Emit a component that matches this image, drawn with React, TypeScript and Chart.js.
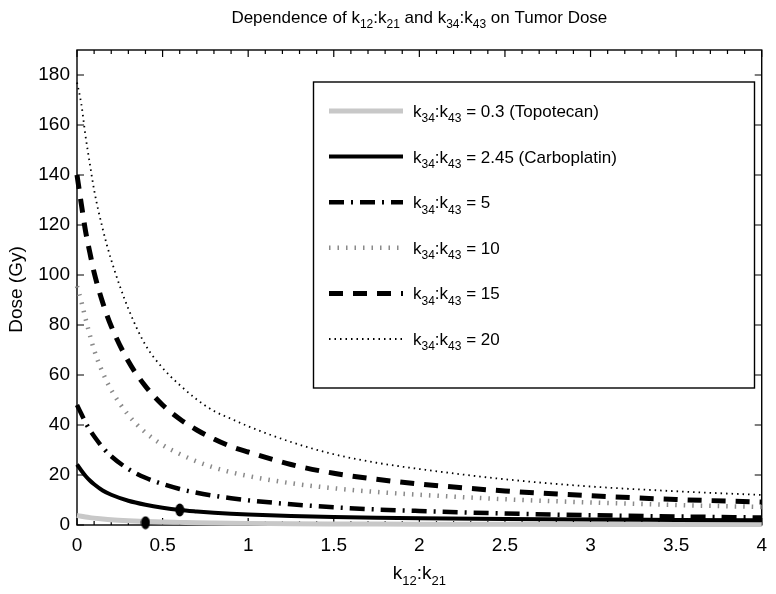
import React, { useEffect, useRef } from 'react';
import { Chart, registerables } from 'chart.js';

Chart.register(...registerables);

// k12:k21 sample positions (x axis)
const kRatio = [0, 0.025, 0.05, 0.075, 0.1, 0.15, 0.2, 0.3, 0.4, 0.5, 0.6, 0.7, 0.8, 0.9, 1, 1.25, 1.5, 1.75, 2, 2.5, 3, 3.5, 4];

// Dose (Gy) for each k34:k43 value
const doseTopotecan = [3.8, 3.5, 3.2, 2.95, 2.75, 2.4, 2.1, 1.7, 1.4, 1.2, 1.05, 0.9, 0.8, 0.72, 0.65, 0.52, 0.44, 0.38, 0.34, 0.28, 0.24, 0.21, 0.19];
const doseCarboplatin = [24.2, 21.8, 19.6, 17.8, 16.3, 13.8, 12.1, 9.7, 8.1, 6.9, 6.0, 5.4, 4.9, 4.5, 4.2, 3.6, 3.2, 2.9, 2.7, 2.4, 2.2, 2.05, 1.9];
const dose5 = [48, 44.5, 41, 38, 35.5, 31, 27.5, 22.4, 18.9, 16.4, 14.4, 12.9, 11.7, 10.7, 9.9, 8.3, 7.1, 6.2, 5.6, 4.6, 3.9, 3.4, 3.0];
const dose10 = [95.5, 89.5, 82.5, 76, 70, 61, 54, 44, 37, 32, 28.4, 25.4, 23, 21.1, 19.6, 16.7, 14.7, 13.2, 12.1, 10.3, 9.0, 8.0, 7.2];
const dose15 = [140, 128.5, 117.5, 109, 101, 89, 79.5, 65.5, 55.5, 48, 42.4, 38, 34.4, 31.4, 29.2, 24.2, 20.7, 18.3, 16.4, 13.6, 11.7, 10.2, 9.2];
const dose20 = [177, 168.5, 155.5, 144.5, 134, 118.5, 106, 86.5, 72, 62.8, 56, 50.2, 45.6, 42.5, 39.5, 33.2, 28.3, 24.9, 22.4, 18.3, 15.4, 13.5, 12];

const seriesValues = ['0.3 (Topotecan)', '2.45 (Carboplatin)', '5', '10', '15', '20'];

// Marked drug points
const markerX = [0.4, 0.6];
const markerY = [0.9, 6.0];

const xMin = 0;
const xMax = 4;
const xStep = 0.5;
const yMin = 0;
const yMax = 190;
const yStep = 20;

const FONT = '"Liberation Sans", Arial, Helvetica, sans-serif';
const FS_TICK = 19;
const FS_TITLE = 17;
const FS_LEGEND = 17;
const FS_AXIS = 19;

const styles = [
  { color: '#c8c8c8', width: 5, dash: [] as number[] },
  { color: '#000000', width: 4, dash: [] as number[] },
  { color: '#000000', width: 4.5, dash: [15, 7, 2, 7] },
  { color: '#8a8a8a', width: 4.5, dash: [1.5, 7] },
  { color: '#000000', width: 5, dash: [14, 10] },
  { color: '#000000', width: 1.8, dash: [1.5, 4] },
];

type Part = { t: string; sub?: boolean };

function drawRich(ctx: CanvasRenderingContext2D, parts: Part[], x: number, y: number, size: number, align: 'left' | 'center') {
  const subSize = Math.round(size * 0.7);
  const widths = parts.map((p) => {
    ctx.font = `${p.sub ? subSize : size}px ${FONT}`;
    return ctx.measureText(p.t).width;
  });
  const total = widths.reduce((a, b) => a + b, 0);
  let cx = align === 'center' ? x - total / 2 : x;
  ctx.textAlign = 'left';
  ctx.textBaseline = 'alphabetic';
  ctx.fillStyle = '#000';
  parts.forEach((p, i) => {
    ctx.font = `${p.sub ? subSize : size}px ${FONT}`;
    ctx.fillText(p.t, cx, p.sub ? y + size * 0.32 : y);
    cx += widths[i];
  });
}

const decoPlugin = {
  id: 'deco',
  beforeDatasetsDraw(chart: any) {
    const { ctx, chartArea: a } = chart;
    ctx.save();
    ctx.strokeStyle = '#000';
    ctx.lineWidth = 1.4;
    ctx.strokeRect(a.left, a.top, a.right - a.left, a.bottom - a.top);
    const xs = chart.scales.x;
    const ys = chart.scales.y;
    ctx.lineWidth = 1.2;
    ctx.beginPath();
    for (let i = 0; i <= Math.round((xMax - xMin) * 10); i++) {
      const v = xMin + i * 0.1;
      const px = xs.getPixelForValue(v);
      const major = i % 5 === 0;
      const len = major ? 7 : 4;
      ctx.moveTo(px, a.bottom);
      ctx.lineTo(px, a.bottom - len);
      ctx.moveTo(px, a.top);
      ctx.lineTo(px, a.top + len);
    }
    for (let v = yMin; v <= yMax; v += yStep) {
      const py = ys.getPixelForValue(v);
      ctx.moveTo(a.left, py);
      ctx.lineTo(a.left + 7, py);
      ctx.moveTo(a.right, py);
      ctx.lineTo(a.right - 7, py);
    }
    ctx.stroke();
    ctx.restore();
  },
  afterDraw(chart: any) {
    const { ctx, chartArea: a } = chart;
    const cxm = (a.left + a.right) / 2;
    ctx.save();
    // Title
    drawRich(ctx, [
      { t: 'Dependence of k' }, { t: '12', sub: true }, { t: ':k' }, { t: '21', sub: true },
      { t: ' and k' }, { t: '34', sub: true }, { t: ':k' }, { t: '43', sub: true }, { t: ' on Tumor Dose' },
    ], cxm, 23, FS_TITLE, 'center');
    // X title
    drawRich(ctx, [{ t: 'k' }, { t: '12', sub: true }, { t: ':k' }, { t: '21', sub: true }], cxm, 579, FS_AXIS, 'center');
    // Y title
    ctx.save();
    ctx.translate(17, (a.top + a.bottom) / 2 + 2);
    ctx.rotate(-Math.PI / 2);
    ctx.font = `${FS_AXIS}px ${FONT}`;
    ctx.fillStyle = '#000';
    ctx.textAlign = 'center';
    ctx.textBaseline = 'middle';
    ctx.fillText('Dose (Gy)', 0, 0);
    ctx.restore();

    // Legend
    const lx = 313.5, ly = 82, lw = 441, lh = 306;
    ctx.fillStyle = '#fff';
    ctx.fillRect(lx, ly, lw, lh);
    ctx.strokeStyle = '#000';
    ctx.lineWidth = 1.4;
    ctx.strokeRect(lx, ly, lw, lh);
    seriesValues.forEach((label, i) => {
      const ry = 111 + i * 45.6;
      const st = styles[i];
      ctx.save();
      ctx.strokeStyle = st.color;
      ctx.lineWidth = st.width;
      ctx.setLineDash(st.dash);
      ctx.beginPath();
      ctx.moveTo(329, ry);
      ctx.lineTo(403, ry);
      ctx.stroke();
      ctx.restore();
      drawRich(ctx, [{ t: 'k' }, { t: '34', sub: true }, { t: ':k' }, { t: '43', sub: true }, { t: ' = ' + label }], 413, ry + 6, FS_LEGEND, 'left');
    });
    ctx.restore();
  },
};

export default function App() {
  const ref = useRef<HTMLCanvasElement | null>(null);
  useEffect(() => {
    document.body.style.margin = '0';
    const canvas = ref.current;
    if (!canvas) return;
    const mark = document.createElement('canvas');
    mark.width = 10;
    mark.height = 14;
    const mc = mark.getContext('2d');
    if (mc) {
      mc.fillStyle = '#000';
      mc.beginPath();
      mc.ellipse(5, 7, 4.5, 6.5, 0, 0, Math.PI * 2);
      mc.fill();
    }
    const series = [doseTopotecan, doseCarboplatin, dose5, dose10, dose15, dose20];
    const datasets: any[] = series.map((vals, i) => ({
      label: 'k34:k43 = ' + seriesValues[i],
      data: kRatio.map((x, j) => ({ x, y: vals[j] })),
      borderColor: styles[i].color,
      borderWidth: styles[i].width,
      borderDash: styles[i].dash,
      pointRadius: 0,
      fill: false,
      cubicInterpolationMode: 'monotone',
      clip: false,
      order: 6 - i,
    }));
    datasets.push({
      label: 'markers',
      data: markerX.map((x, i) => ({ x, y: markerY[i] })),
      showLine: false,
      pointStyle: mark,
      pointRadius: 6,
      borderColor: '#000',
      backgroundColor: '#000',
      clip: false,
      order: -1,
    });
    const tickFont = { family: FONT, size: FS_TICK };
    const chart = new Chart(canvas, {
      type: 'line',
      data: { datasets },
      options: {
        animation: false,
        responsive: false,
        events: [],
        layout: { padding: { top: 50, right: 9, left: 0, bottom: 0 } },
        plugins: { legend: { display: false }, title: { display: false }, tooltip: { enabled: false } },
        scales: {
          x: {
            type: 'linear',
            min: xMin,
            max: xMax,
            ticks: {
              stepSize: xStep, font: tickFont, color: '#000', padding: 9, maxRotation: 0, autoSkip: false,
              callback: (v: any) => String(Math.round(Number(v) * 10) / 10),
            },
            grid: { display: false, drawTicks: false },
            border: { display: false },
            afterFit: (s: any) => { s.height = 69; },
          },
          y: {
            type: 'linear',
            min: yMin,
            max: yMax,
            ticks: { stepSize: yStep, font: tickFont, color: '#000', padding: 7, autoSkip: false },
            grid: { display: false, drawTicks: false },
            border: { display: false },
            afterBuildTicks: (s: any) => { s.ticks = s.ticks.filter((t: any) => t.value % yStep === 0); },
            afterFit: (s: any) => { s.width = 77; },
          },
        },
      },
      plugins: [decoPlugin],
    } as any);
    return () => chart.destroy();
  }, []);
  return <canvas ref={ref} width={776} height={594} style={{ display: 'block' }} />;
}
